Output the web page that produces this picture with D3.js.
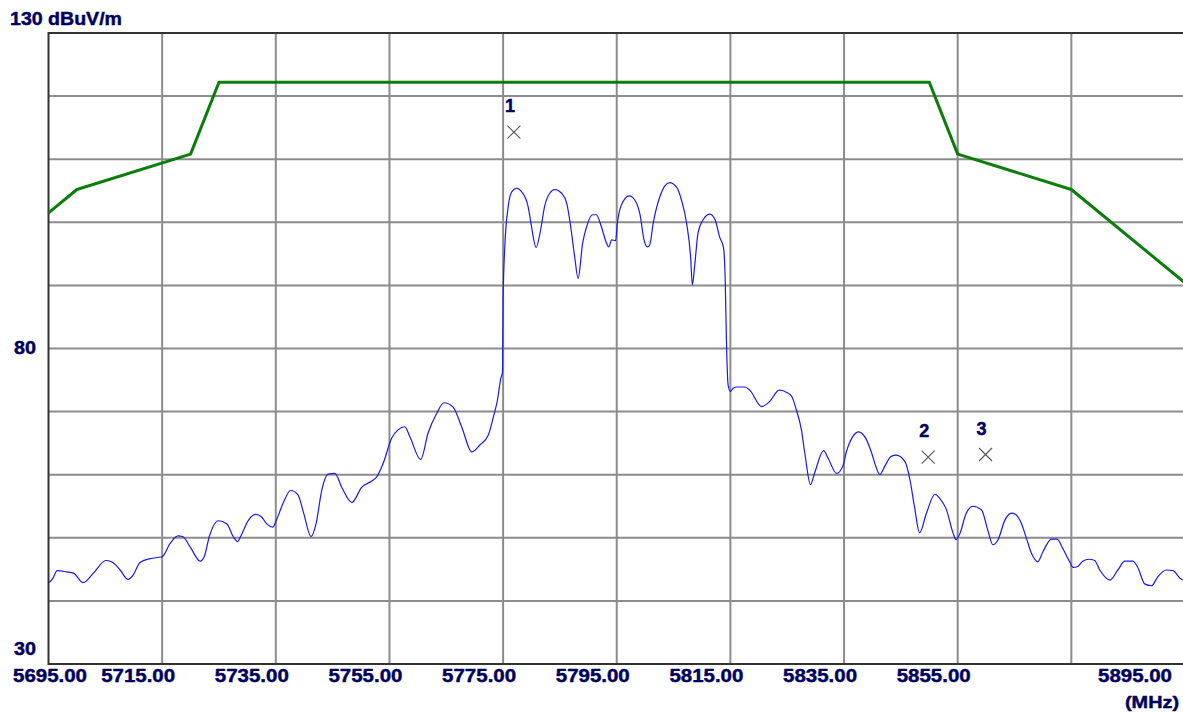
<!DOCTYPE html>
<html>
<head>
<meta charset="utf-8">
<script src="https://cdn.jsdelivr.net/npm/d3@7"></script>
<style>
  html, body { margin: 0; padding: 0; background: #fff; }
  svg { display: block; }
  text { font-family: "Liberation Sans", Arial, sans-serif; font-weight: bold; fill: #000060; stroke: #000060; stroke-width: 0.45px; }
</style>
</head>
<body>
<svg id="chart" width="1183" height="713"></svg>
<script>
// ---------- data ----------
const xDomain = [5695, 5895];
const yDomain = [30, 130];
const xGridValues = [5695, 5715, 5735, 5755, 5775, 5795, 5815, 5835, 5855, 5875, 5895];
const yGridValues = [30, 40, 50, 60, 70, 80, 90, 100, 110, 120, 130];
const xTickValues = [5695, 5715, 5735, 5755, 5775, 5795, 5815, 5835, 5855, 5895];
const xTickLabels = ["5695.00", "5715.00", "5735.00", "5755.00", "5775.00", "5795.00", "5815.00", "5835.00", "5855.00", "5895.00"];
const yTickValues = [130, 80, 30];
const yTickLabels = ["130 dBuV/m", "80", "30"];
const xUnit = "(MHz)";

// limit line (dBuV/m)
const limitFreq = [5695, 5700, 5720, 5725, 5850, 5855, 5875, 5895];
const limitLevel = [101.5, 105.2, 110.8, 122.2, 122.2, 110.8, 105.2, 90.4];

// measured trace (MHz, dBuV/m)
const traceFreq = [
  5695.1, 5695.8, 5696.5, 5698.2, 5699.4, 5701.1, 5702.9, 5705.1, 5706.1, 5707.6,
  5709.0, 5709.9, 5711.1, 5712.9, 5715.0, 5716.4, 5717.8, 5718.6, 5719.9, 5721.7,
  5722.4, 5723.3, 5724.9, 5726.4, 5727.5, 5728.3, 5728.8, 5730.2, 5731.5, 5732.5,
  5733.4, 5734.5, 5735.1, 5736.3, 5737.6, 5738.9, 5739.9, 5741.2, 5742.1, 5743.1,
  5744.2, 5745.4, 5746.6, 5748.4, 5750.1, 5751.9, 5752.8, 5753.9, 5755.4, 5756.5,
  5757.7, 5758.6, 5760.5, 5761.8, 5763.3, 5764.6, 5766.2, 5767.7, 5769.5, 5770.9,
  5772.4, 5773.3, 5774.0, 5774.6, 5774.9, 5775.0, 5775.3, 5775.9, 5776.5, 5777.4,
  5778.3, 5779.4, 5780.0, 5780.8, 5781.5, 5782.3, 5783.2, 5784.1, 5785.3, 5786.2,
  5786.9, 5787.6, 5788.2, 5789.0, 5789.7, 5790.7, 5791.4, 5792.3, 5793.2, 5793.6,
  5794.1, 5794.8, 5795.1, 5795.8, 5797.2, 5798.2, 5799.1, 5799.8, 5800.4, 5800.8,
  5801.4, 5802.6, 5804.3, 5805.5, 5806.4, 5807.3, 5808.0, 5808.3, 5808.7, 5809.3,
  5810.2, 5811.4, 5812.3, 5813.1, 5813.8, 5814.1, 5814.3, 5814.6, 5815.0, 5815.5,
  5816.1, 5817.5, 5818.4, 5820.5, 5821.9, 5823.6, 5825.0, 5825.8, 5826.6, 5827.5,
  5828.1, 5829.1, 5829.8, 5831.4, 5832.2, 5833.7, 5834.8, 5835.4, 5836.5, 5837.6,
  5838.8, 5839.8, 5840.6, 5841.3, 5842.2, 5843.3, 5844.2, 5845.7, 5846.6, 5847.4,
  5848.3, 5849.5, 5851.0, 5851.8, 5853.0, 5854.2, 5854.7, 5855.4, 5856.5, 5857.7,
  5859.2, 5860.3, 5861.2, 5862.1, 5863.3, 5864.5, 5865.2, 5866.2, 5867.1, 5868.0,
  5869.1, 5870.0, 5871.5, 5872.5, 5873.5, 5874.7, 5875.3, 5876.2, 5877.0, 5878.1,
  5879.1, 5880.0, 5881.8, 5883.2, 5884.4, 5885.8, 5886.7, 5887.9, 5889.1, 5890.2,
  5891.7, 5892.9, 5894.1, 5894.6
];
const traceLevel = [
  42.9, 43.6, 44.8, 44.6, 44.4, 42.9, 44.4, 46.4, 46.2, 44.9,
  43.4, 44.1, 46.1, 46.7, 47.0, 49.1, 50.3, 50.2, 48.6, 46.3,
  47.0, 50.2, 52.7, 52.2, 50.2, 49.4, 50.2, 52.8, 53.7, 53.3,
  52.2, 51.7, 52.8, 55.5, 57.5, 56.8, 53.9, 50.2, 52.3, 57.6,
  60.1, 60.2, 58.0, 55.6, 58.0, 59.0, 59.7, 61.8, 65.8, 67.1,
  67.6, 66.0, 62.4, 66.6, 69.7, 71.4, 70.7, 67.6, 63.6, 64.7,
  66.3, 69.2, 71.8, 75.3, 76.3, 88.0, 96.1, 102.5, 104.8, 105.4,
  104.8, 102.5, 99.3, 96.0, 98.3, 102.5, 104.6, 105.2, 104.6, 103.0,
  99.3, 94.5, 91.1, 96.7, 99.3, 101.2, 101.2, 99.3, 96.7, 96.1,
  97.2, 97.1, 99.8, 102.7, 104.2, 103.5, 101.2, 97.2, 96.1, 96.4,
  99.8, 104.1, 106.3, 105.6, 103.5, 99.8, 94.5, 90.1, 93.0, 98.3,
  100.4, 101.3, 100.4, 97.7, 95.9, 90.4, 81.3, 74.2, 73.2, 73.7,
  73.9, 73.9, 73.4, 70.8, 71.6, 73.4, 73.0, 72.4, 70.3, 67.1,
  63.4, 58.4, 60.2, 63.8, 62.6, 60.2, 61.4, 63.6, 66.0, 66.8,
  65.8, 63.6, 61.3, 60.0, 61.4, 62.9, 63.1, 62.1, 59.2, 54.9,
  50.8, 53.9, 56.9, 56.3, 54.5, 50.7, 49.7, 50.7, 53.9, 55.0,
  54.4, 51.2, 48.9, 49.7, 52.8, 53.9, 53.7, 52.3, 49.9, 47.5,
  46.2, 47.8, 49.8, 49.8, 48.3, 46.2, 45.3, 45.5, 46.3, 46.6,
  46.4, 44.9, 43.3, 44.9, 46.3, 46.3, 45.3, 42.7, 42.4, 43.8,
  44.9, 44.8, 43.6, 43.3
];

// markers
const markerIds = ["1", "2", "3"];
const markerFreq = [5776.9, 5849.8, 5859.9];
const markerLevel = [114.3, 62.8, 63.2];

// ---------- drawing ----------
const svg = d3.select("#chart");
const W = 1183, H = 713;
svg.append("rect").attr("width", W).attr("height", H).attr("fill", "#fff");

const x = d3.scaleLinear().domain(xDomain).range([48.5, 1185]);
const y = d3.scaleLinear().domain(yDomain).range([664, 33]);

// grid
const grid = svg.append("g").attr("stroke", "#8c8c8c").attr("stroke-width", 2);
grid.selectAll("line.v").data(xGridValues.slice(1)).join("line")
  .attr("x1", d => x(d)).attr("x2", d => x(d))
  .attr("y1", y(yDomain[1])).attr("y2", y(yDomain[0]));
grid.selectAll("line.h").data(yGridValues.slice(1, -1)).join("line")
  .attr("x1", x(xDomain[0])).attr("x2", x(xDomain[1]))
  .attr("y1", d => y(d)).attr("y2", d => y(d));

// frame
const frame = svg.append("g").attr("stroke", "#333").attr("stroke-width", 2).attr("fill", "none");
frame.append("line").attr("x1", x(xDomain[0])).attr("x2", x(xDomain[1]) + 5)
  .attr("y1", y(yDomain[1])).attr("y2", y(yDomain[1]));
frame.append("line").attr("x1", x(xDomain[0])).attr("x2", x(xDomain[1]) + 5)
  .attr("y1", y(yDomain[0])).attr("y2", y(yDomain[0]));
frame.append("line").attr("x1", x(xDomain[0])).attr("x2", x(xDomain[0]))
  .attr("y1", y(yDomain[1]) - 1).attr("y2", y(yDomain[0]) + 1);

// limit line
const limitData = limitFreq.map((f, i) => [f, limitLevel[i]]);
svg.append("path").datum(limitData)
  .attr("fill", "none").attr("stroke", "#0a7d0a").attr("stroke-width", 3)
  .attr("stroke-linejoin", "round")
  .attr("d", d3.line().x(d => x(d[0])).y(d => y(d[1])));

// trace
const traceData = traceFreq.map((f, i) => [f, traceLevel[i]]);
svg.append("path").datum(traceData)
  .attr("fill", "none").attr("stroke", "#1a1ae6").attr("stroke-width", 1.2)
  .attr("stroke-linejoin", "round")
  .attr("d", d3.line().curve(d3.curveMonotoneX).x(d => x(d[0])).y(d => y(d[1])));

// markers
const mk = svg.append("g");
markerIds.forEach((id, i) => {
  const cx = x(markerFreq[i]), cy = y(markerLevel[i]);
  const s = 6.5;
  mk.append("path")
    .attr("d", `M${cx - s},${cy - s}L${cx + s},${cy + s}M${cx - s},${cy + s}L${cx + s},${cy - s}`)
    .attr("stroke", "#555").attr("stroke-width", 1.1).attr("fill", "none");
  mk.append("text").attr("x", cx - 4).attr("y", cy - 20)
    .attr("text-anchor", "middle").attr("font-size", 18).text(id);
});

// x tick labels
const xl = svg.append("g");
xTickValues.forEach((v, i) => {
  const w = 74;
  let c = x(v) - 24;
  c = Math.max(13 + w / 2, Math.min(1172 - w / 2, c));
  xl.append("text").attr("x", c - w / 2).attr("y", 682)
    .attr("font-size", 18.5).attr("textLength", w).attr("lengthAdjust", "spacingAndGlyphs")
    .text(xTickLabels[i]);
});
xl.append("text").attr("x", 1125).attr("y", 708)
  .attr("font-size", 17).attr("textLength", 54).attr("lengthAdjust", "spacingAndGlyphs")
  .text(xUnit);

// y tick labels
const yl = svg.append("g");
yTickValues.forEach((v, i) => {
  let base;
  if (v === yDomain[1]) base = y(v) - 8.5;
  else if (v === yDomain[0]) base = y(v) - 9;
  else base = y(v) + 5.5;
  const t = yl.append("text").attr("y", base).attr("font-size", 18.5).text(yTickLabels[i]);
  if (v === yDomain[1]) t.attr("x", 10).attr("textLength", 112).attr("lengthAdjust", "spacingAndGlyphs");
  else t.attr("x", 14).attr("textLength", 22).attr("lengthAdjust", "spacingAndGlyphs");
});
</script>
</body>
</html>
